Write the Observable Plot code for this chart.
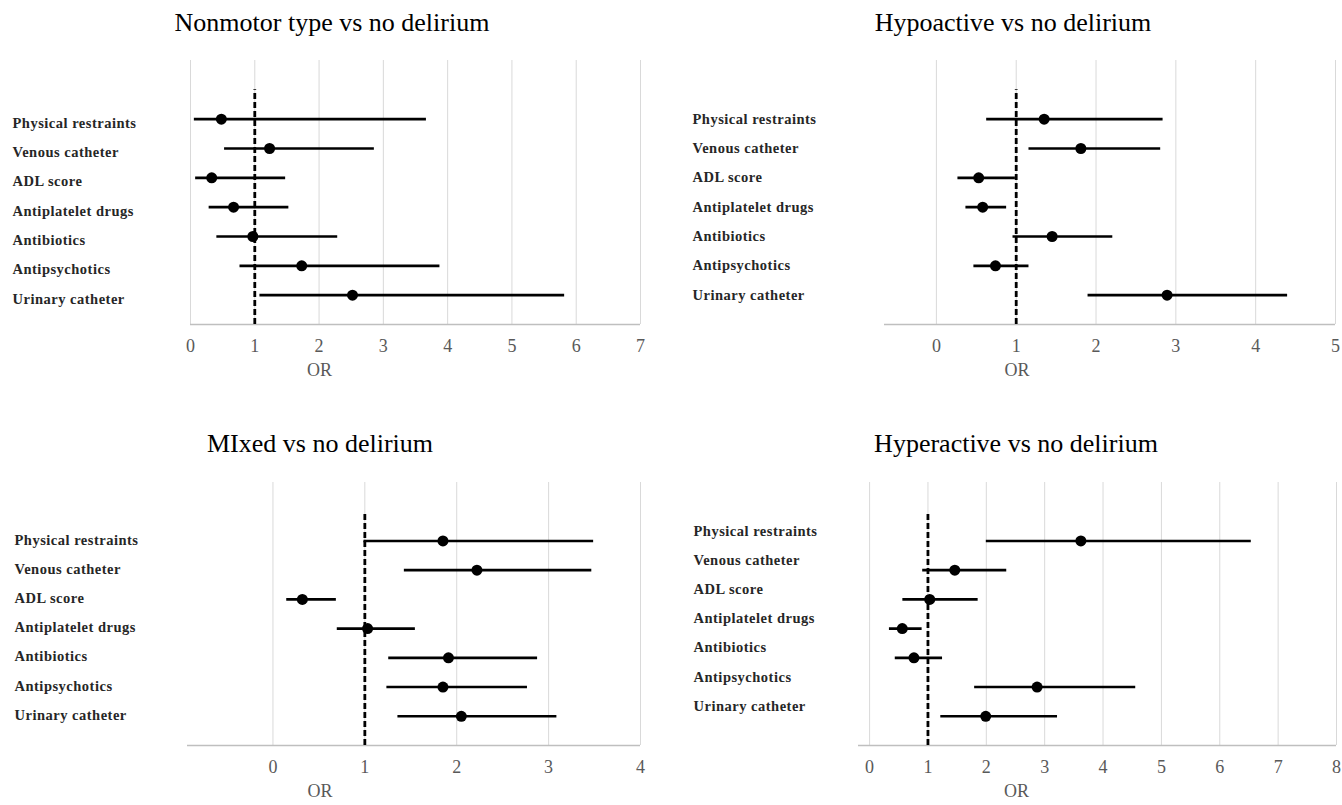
<!DOCTYPE html>
<html>
<head>
<meta charset="utf-8">
<script src="https://cdn.jsdelivr.net/npm/d3@7"></script>
<script src="https://cdn.jsdelivr.net/npm/@observablehq/plot@0.6"></script>
<style>
  html, body { margin: 0; padding: 0; background: #fff; }
  #root { position: relative; width: 1342px; height: 805px; background: #fff; overflow: hidden; }
  .panel { position: absolute; }
  .title { position: absolute; font-family: "Liberation Serif", "Times New Roman", serif; font-size: 26px; color: #000; white-space: nowrap; transform: translate(-50%, -50%); }
</style>
</head>
<body>
<div id="root"></div>
<script>
// ---- Data ----
const factors = ["Physical restraints", "Venous catheter", "ADL score", "Antiplatelet drugs", "Antibiotics", "Antipsychotics", "Urinary catheter"];

const titles = ["Nonmotor type vs no delirium", "Hypoactive vs no delirium", "MIxed vs no delirium", "Hyperactive vs no delirium"];
const axisTitle = "OR";
const refOR = 1;

const nonmotorOR = [0.48, 1.23, 0.33, 0.67, 0.97, 1.73, 2.52];
const nonmotorLo = [0.06, 0.53, 0.08, 0.29, 0.41, 0.77, 1.08];
const nonmotorHi = [3.67, 2.86, 1.48, 1.53, 2.29, 3.88, 5.82];

const hypoOR = [1.35, 1.81, 0.53, 0.58, 1.45, 0.74, 2.89];
const hypoLo = [0.63, 1.16, 0.27, 0.37, 0.96, 0.47, 1.90];
const hypoHi = [2.84, 2.81, 0.99, 0.88, 2.21, 1.16, 4.40];

const mixedOR = [1.85, 2.22, 0.32, 1.03, 1.91, 1.85, 2.05];
const mixedLo = [0.99, 1.43, 0.15, 0.70, 1.26, 1.24, 1.36];
const mixedHi = [3.49, 3.47, 0.69, 1.55, 2.88, 2.77, 3.09];

const hyperOR = [3.62, 1.46, 1.03, 0.56, 0.76, 2.87, 1.99];
const hyperLo = [2.00, 0.91, 0.57, 0.34, 0.44, 1.80, 1.22];
const hyperHi = [6.54, 2.35, 1.86, 0.90, 1.25, 4.56, 3.22];

const xDomains = [[0, 7], [-0.65, 5], [-0.93, 4], [-0.19, 8]];
const xTickLists = [[0, 1, 2, 3, 4, 5, 6, 7], [0, 1, 2, 3, 4, 5], [0, 1, 2, 3, 4], [0, 1, 2, 3, 4, 5, 6, 7, 8]];

// ---- Layout (positions / styles) ----
const layout = [
  {left: 0,   top: 0,   width: 671, height: 402, mL: 190, mR: 31,  mT: 60, mB: 78, labelX: 12, labelDy: 4,   orDx: -96,  titleX: 332,  titleY: 23},
  {left: 671, top: 0,   width: 671, height: 402, mL: 213, mR: 7,   mT: 60, mB: 78, labelX: 21, labelDy: 0,   orDx: -93,  titleX: 1013, titleY: 23},
  {left: 0,   top: 402, width: 671, height: 403, mL: 187, mR: 31,  mT: 80, mB: 60, labelX: 14, labelDy: -1,  orDx: -94,  titleX: 320,  titleY: 444},
  {left: 671, top: 402, width: 671, height: 403, mL: 187, mR: 6,   mT: 80, mB: 60, labelX: 22, labelDy: -10, orDx: -81,  titleX: 1016, titleY: 444}
];

const series = [
  [nonmotorOR, nonmotorLo, nonmotorHi],
  [hypoOR, hypoLo, hypoHi],
  [mixedOR, mixedLo, mixedHi],
  [hyperOR, hyperLo, hyperHi]
];

const root = document.getElementById("root");
const n = factors.length;
const serif = "'Liberation Serif', 'Times New Roman', serif";

series.forEach(([ors, los, his], k) => {
  const L = layout[k];
  const rows = factors.map((f, i) => ({factor: f, pos: n - i, or: ors[i], lo: los[i], hi: his[i]}));

  const chart = Plot.plot({
    width: L.width,
    height: L.height,
    marginLeft: L.mL,
    marginRight: L.mR,
    marginTop: L.mT,
    marginBottom: L.mB,
    style: {fontFamily: serif, fontSize: "18px", color: "#595959", background: "transparent", overflow: "visible"},
    x: {domain: xDomains[k], label: null},
    y: {domain: [0, n + 2], axis: null},
    marks: [
      Plot.gridX(xTickLists[k], {stroke: "#d9d9d9", strokeOpacity: 1, strokeWidth: 1}),
      Plot.axisX({ticks: xTickLists[k], tickFormat: "d", tickSize: 0, tickPadding: 15, label: null, fontSize: 18, fontFamily: serif}),
      Plot.ruleY([0], {stroke: "#bfbfbf", strokeWidth: 1.6}),
      Plot.ruleX([refOR], {y1: 0, y2: n + 1, stroke: "#000", strokeWidth: 2.8, strokeDasharray: "6,3"}),
      Plot.ruleY(rows, {y: "pos", x1: "lo", x2: "hi", stroke: "#000", strokeWidth: 2.6}),
      Plot.dot(rows, {x: "or", y: "pos", r: 5.5, fill: "#000", stroke: "none"}),
      Plot.text(rows, {y: "pos", text: "factor", frameAnchor: "left", textAnchor: "start",
        dx: L.labelX - L.mL, dy: L.labelDy, fill: "#262626", fontSize: 14.5, fontWeight: "bold", fontFamily: serif}),
      Plot.text([axisTitle], {frameAnchor: "bottom", dx: L.orDx, dy: 51, fill: "#595959", fontSize: 18, fontFamily: serif})
    ]
  });
  chart.querySelectorAll('g[font-weight="bold"]').forEach(g => g.setAttribute("letter-spacing", "0.5"));

  const wrap = document.createElement("div");
  wrap.className = "panel";
  wrap.style.left = L.left + "px";
  wrap.style.top = L.top + "px";
  wrap.appendChild(chart);
  root.appendChild(wrap);

  const t = document.createElement("div");
  t.className = "title";
  t.style.left = L.titleX + "px";
  t.style.top = L.titleY + "px";
  t.textContent = titles[k];
  root.appendChild(t);
});
</script>
</body>
</html>
